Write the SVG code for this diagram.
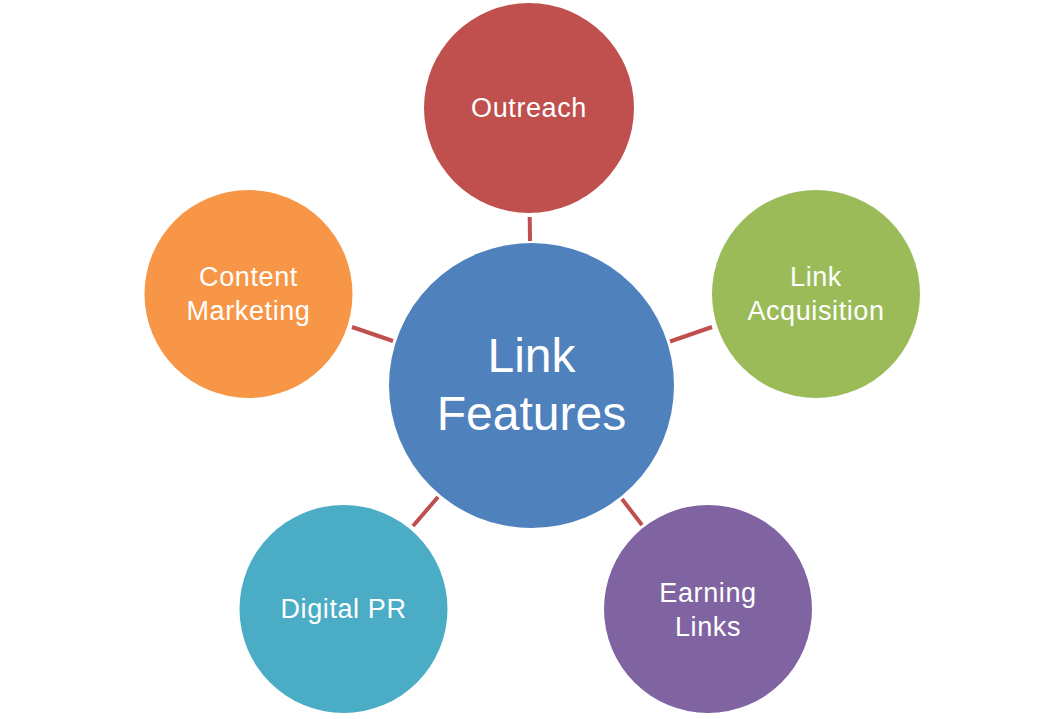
<svg xmlns="http://www.w3.org/2000/svg" width="1063" height="719" viewBox="0 0 1063 719">
<style>
.lbl{font-family:"Liberation Sans",Arial,sans-serif;font-size:27px;letter-spacing:0.6px;fill:#fff;text-anchor:middle}
.big{font-size:48px;letter-spacing:0}
.conn line{stroke:#C0504D;stroke-width:4}
</style>
<rect width="1063" height="719" fill="#fff"/>
<g id="connectors" class="conn">
<line x1="529.7" y1="217" x2="530" y2="241"/>
<line x1="670" y1="341.5" x2="712" y2="327"/>
<line x1="352" y1="327" x2="393" y2="341"/>
<line x1="438" y1="497" x2="413" y2="526"/>
<line x1="622" y1="499" x2="642" y2="525"/>
</g>
<g id="center">
<circle cx="531.5" cy="385.5" r="142.5" fill="#4F81BD"/>
<text class="lbl big" x="531.5" y="372">Link</text>
<text class="lbl big" x="531.5" y="430">Features</text>
</g>
<g id="outreach">
<circle cx="529" cy="108" r="105" fill="#C0504D"/>
<text class="lbl" x="529" y="117">Outreach</text>
</g>
<g id="link-acquisition">
<circle cx="816" cy="294" r="104" fill="#9BBB59"/>
<text class="lbl" x="816" y="286">Link</text>
<text class="lbl" x="816" y="320">Acquisition</text>
</g>
<g id="content-marketing">
<circle cx="248.5" cy="294" r="104" fill="#F79646"/>
<text class="lbl" x="248.5" y="286">Content</text>
<text class="lbl" x="248.5" y="320">Marketing</text>
</g>
<g id="digital-pr">
<circle cx="343.5" cy="609" r="104" fill="#4BACC6"/>
<text class="lbl" x="343.5" y="618">Digital PR</text>
</g>
<g id="earning-links">
<circle cx="708" cy="609" r="104" fill="#8064A2"/>
<text class="lbl" x="708" y="602">Earning</text>
<text class="lbl" x="708" y="636">Links</text>
</g>
</svg>
